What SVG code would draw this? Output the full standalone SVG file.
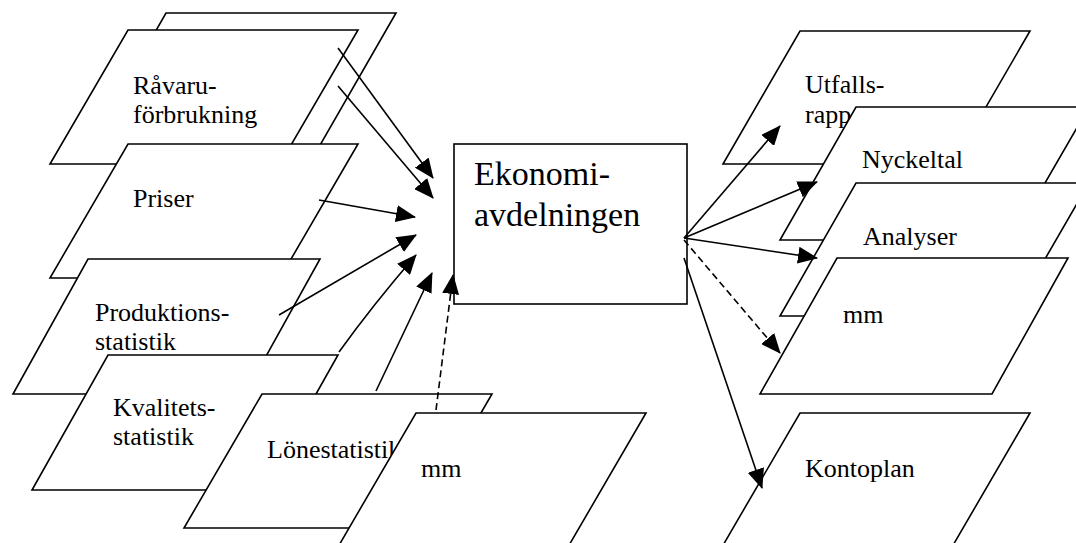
<svg xmlns="http://www.w3.org/2000/svg" width="1076" height="543" viewBox="0 0 1076 543">
<style>
.shape{fill:#fff;stroke:#000;stroke-width:1.6;stroke-linejoin:miter}
.t{font-family:"Liberation Serif","Times New Roman",serif;font-size:26px;fill:#000}
.tb{font-family:"Liberation Serif","Times New Roman",serif;font-size:34px;fill:#000}
.c{fill:none;stroke:#000;stroke-width:1.6;marker-end:url(#ah)}
.d{stroke-dasharray:7,4}
</style>
<defs>
<marker id="ah" markerWidth="20" markerHeight="17" refX="19" refY="8.5" orient="auto" markerUnits="userSpaceOnUse">
<path d="M0,0 L20,8.5 L0,17 Z" fill="#000" stroke="none"/>
</marker>
</defs>
<rect x="0" y="0" width="1076" height="543" fill="#fff"/>
<g id="n-back"><polygon class="shape" points="166,13 396,13 319,147 89,147"/></g>
<g id="n-ravaru"><polygon class="shape" points="128,30 358,30 280,164 50,164"/>
<text class="t" x="133" y="94">Råvaru-</text><text class="t" x="133" y="123">förbrukning</text></g>
<g id="n-priser"><polygon class="shape" points="128,144 358,144 280,278 50,278"/>
<text class="t" x="133" y="207">Priser</text></g>
<g id="n-produktion"><polygon class="shape" points="88,259 320,259 245,394 13,394"/>
<text class="t" x="95" y="321">Produktions-</text><text class="t" x="95" y="350">statistik</text></g>
<g id="n-kvalitet"><polygon class="shape" points="108,355 338,355 262,490 32,490"/>
<text class="t" x="113" y="416">Kvalitets-</text><text class="t" x="113" y="445">statistik</text></g>
<g id="n-lone"><polygon class="shape" points="262,394 492,394 414,528 184,528"/>
<text class="t" x="267" y="458">Lönestatistik</text></g>
<g id="n-mm-left"><polygon class="shape" points="416,413 646,413 568,547 338,547"/>
<text class="t" x="421" y="477">mm</text></g>
<g id="n-ekonomi"><rect class="shape" x="454" y="144" width="233" height="160"/>
<text class="tb" x="474" y="185">Ekonomi-</text><text class="tb" x="474" y="226">avdelningen</text></g>
<g id="n-utfall"><polygon class="shape" points="800,31 1030,31 953,164 723,164"/>
<text class="t" x="805" y="93">Utfalls-</text><text class="t" x="805" y="123">rapporter</text></g>
<g id="n-nyckeltal"><polygon class="shape" points="856,107 1089,107 1012,240 780,240"/>
<text class="t" x="862" y="168">Nyckeltal</text></g>
<g id="n-analyser"><polygon class="shape" points="856,183 1089,183 1012,316 780,316"/>
<text class="t" x="863" y="245">Analyser</text></g>
<g id="n-mm-right"><polygon class="shape" points="837,258 1068,258 992,394 760,394"/>
<text class="t" x="843" y="323">mm</text></g>
<g id="n-kontoplan"><polygon class="shape" points="800,413 1030,413 952,547 722,547"/>
<text class="t" x="805" y="477">Kontoplan</text></g>
<g id="connectors">
<line class="c" x1="338" y1="48" x2="433" y2="178"/>
<line class="c" x1="338" y1="86" x2="433" y2="198"/>
<line class="c" x1="319" y1="200" x2="415" y2="217"/>
<line class="c" x1="279" y1="315" x2="416" y2="235"/>
<path class="c" d="M339,352 Q372,306 416,255"/>
<line class="c" x1="376" y1="391" x2="432" y2="273"/>
<line class="c d" x1="436" y1="410" x2="453" y2="275"/>
<line class="c" x1="684" y1="238" x2="780" y2="126"/>
<line class="c" x1="684" y1="238" x2="817" y2="182"/>
<line class="c" x1="684" y1="238" x2="817" y2="258"/>
<line class="c d" x1="684" y1="240" x2="780" y2="353"/>
<line class="c" x1="684" y1="258" x2="762" y2="488"/>
</g>
</svg>
